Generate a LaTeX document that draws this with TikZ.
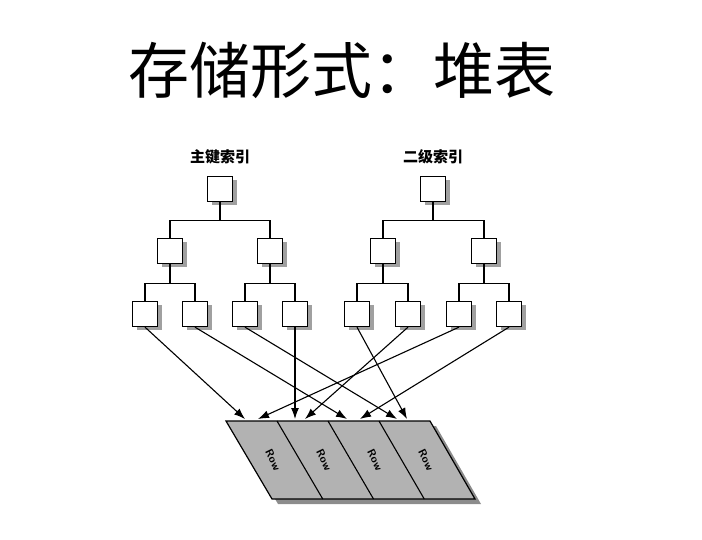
\documentclass[tikz,border=0pt]{standalone}
\usepackage{fontspec}
\newfontfamily\cjk{Noto Sans CJK SC}
\usepackage{xcolor}
\usepackage{tikz}
\usetikzlibrary{calc,positioning,arrows.meta,shadows}
\definecolor{rowfill}{HTML}{B2B2B2}
\definecolor{shadecol}{HTML}{A0A0A0}
\definecolor{tableshade}{HTML}{8C8C8C}
\tikzset{
  pagebox/.style = {draw=black, line width=1.3pt, fill=white, minimum size=25pt,
                    inner sep=0pt,
                    drop shadow={shadow xshift=4pt, shadow yshift=-4pt,
                                 fill=shadecol, opacity=1}},
  link/.style    = {draw=black, line width=1.2pt},
  ptr/.style     = {-{Latex[length=11pt,width=8pt]}, draw=black, line width=1.1pt},
  rowtxt/.style  = {font=\sffamily\bfseries\fontsize{11}{12}\selectfont, rotate=-64,
                    inner sep=0pt},
  idxhead/.style = {font=\cjk\bfseries\fontsize{15}{17}\selectfont},
}

\begin{document}
\begin{tikzpicture}[x=1pt, y=-1pt]
    \useasboundingbox (0,0) rectangle (702,540);
    \node[font=\cjk\fontsize{61}{66}\selectfont] (title) at (342,70) {存储形式：堆表};

    % ---------------- primary index
    \node[idxhead] (pkhead) at (220,157) {主键索引};
    \node[pagebox] (r1) at (220,189) {};
    \node[pagebox] (a1) at (170,251) {};
    \node[pagebox] (a2) at (270,251) {};
    \node[pagebox] (p1) at (145,314) {};
    \node[pagebox] (p2) at (195,314) {};
    \node[pagebox] (p3) at (245,314) {};
    \node[pagebox] (p4) at (295,314) {};

    % ---------------- secondary index
    \node[idxhead] (skhead) at (433,157) {二级索引};
    \node[pagebox] (r2) at (433,189) {};
    \node[pagebox] (b1) at (383,251) {};
    \node[pagebox] (b2) at (484,251) {};
    \node[pagebox] (p5) at (357,314) {};
    \node[pagebox] (p6) at (408,314) {};
    \node[pagebox] (p7) at (459,314) {};
    \node[pagebox] (p8) at (509,314) {};

    \foreach \a/\b in {r1/a1, r1/a2, r2/b1, r2/b2}
      {\draw[link] (\a.south) -- ([yshift=-18pt]\a.south) -| (\b.north);}
    \foreach \a/\b in {a1/p1, a1/p2, a2/p3, a2/p4, b1/p5, b1/p6, b2/p7, b2/p8}
      {\draw[link] (\a.south) -- ([yshift=-19pt]\a.south) -| (\b.north);}

    % ---------------- heap table
    \coordinate (tl) at (226,421);
    \coordinate (tr) at (430,421);
    \coordinate (br) at (475,499);
    \coordinate (bl) at (272,499);
    \fill[tableshade] ([shift={(6pt,-5pt)}]tl) -- ([shift={(6pt,-5pt)}]tr)
      -- ([shift={(6pt,-5pt)}]br) -- ([shift={(6pt,-5pt)}]bl) -- cycle;
    \draw[fill=rowfill, line width=1.2pt] (tl) -- (tr) -- (br) -- (bl) -- cycle;
    \foreach \i in {1,2,3}
      {\draw[line width=1.1pt] ($(tl)!\i/4!(tr)$) -- ($(bl)!\i/4!(br)$);}
    \foreach \i in {1,...,4}
      {\node[rowtxt] (row\i) at ($(tl)!0.5!(bl) + (51*\i-27,0)$) {Row};}

    \foreach \n/\x in {1/245, 2/258, 3/295, 4/305, 5/347, 6/360, 7/397, 8/407}
      {\coordinate (t\n) at (\x,419);}
    \foreach \a/\b in {p1/t1, p2/t5, p3/t7, p4/t3, p5/t8, p6/t4, p7/t2, p8/t6}
      {\draw[ptr] (\a.south) -- (\b);}
  \end{tikzpicture}
\end{document}
